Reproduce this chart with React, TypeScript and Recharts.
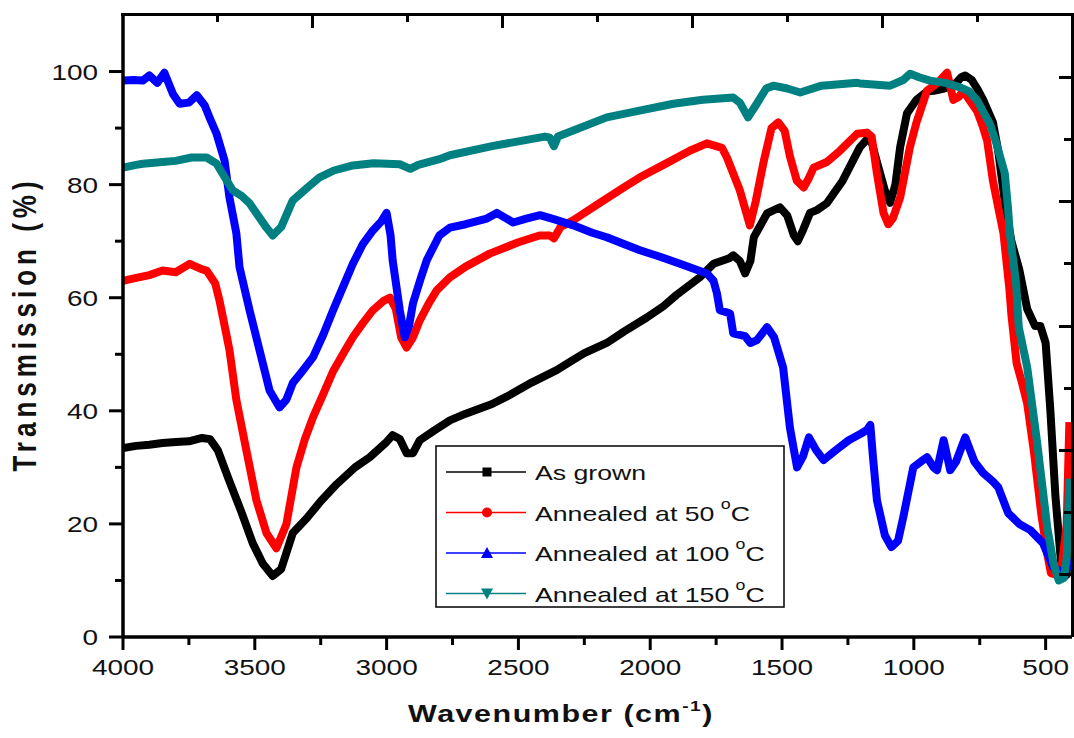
import React from "react"
import { Label, Legend, Line, LineChart, XAxis, YAxis } from "recharts"

// FTIR transmission spectra, [wavenumber cm-1, transmission %]
const asGrown: [number, number][] = [
  [4000, 33.4], [3950, 33.8], [3900, 34], [3850, 34.3], [3800, 34.5], [3750, 34.6], [3700, 35.2],
  [3670, 35], [3640, 33], [3600, 28], [3550, 22], [3508, 16.6], [3470, 13], [3432, 10.8], [3400, 12],
  [3356, 18.4], [3303, 21], [3250, 24], [3190, 27], [3120, 30], [3064, 31.8], [3000, 34.5], [2977, 35.7],
  [2950, 35], [2924, 32.5], [2900, 32.5], [2874, 34.8], [2820, 36.5], [2760, 38.3], [2700, 39.5],
  [2600, 41.2], [2545, 42.5], [2450, 45], [2355, 47.2], [2300, 48.8], [2250, 50.2], [2165, 52], [2100, 54],
  [2013, 56.5], [1950, 58.5], [1900, 60.5], [1812, 63.6], [1760, 66], [1700, 67], [1685, 67.5],
  [1660, 66.5], [1640, 64.3], [1620, 66.5], [1607, 70.7], [1557, 74.9], [1508, 76], [1480, 74.5],
  [1455, 71], [1440, 70], [1420, 72], [1394, 75], [1368, 75.5], [1330, 76.7], [1270, 80.7], [1205, 86.6],
  [1178, 88], [1160, 87.5], [1140, 84], [1110, 79], [1090, 76.8], [1070, 80], [1052, 86.6], [1026, 92.6],
  [990, 95], [950, 96.5], [925, 96.6], [885, 97], [850, 97.5], [820, 99], [805, 99.3], [780, 98.5],
  [760, 97], [737, 95], [700, 91], [680, 86], [655, 77], [630, 70], [600, 65], [570, 58], [540, 55],
  [520, 55], [500, 52], [482, 40], [463, 25], [445, 15], [435, 10.5], [420, 11], [410, 30],
]

const annealed50: [number, number][] = [
  [4000, 63], [3950, 63.5], [3900, 64], [3850, 64.8], [3800, 64.5], [3747, 66], [3700, 65], [3683, 64.8],
  [3650, 62.5], [3634, 59.5], [3610, 54], [3596, 50.7], [3570, 41.9], [3532, 33], [3494, 24.2],
  [3456, 18.4], [3418, 15.7], [3380, 20], [3342, 30], [3310, 35], [3279, 38.9], [3240, 43], [3203, 47],
  [3160, 50.5], [3128, 53], [3090, 55.5], [3052, 57.8], [3010, 59.5], [2987, 60], [2965, 58], [2945, 53],
  [2924, 51.2], [2900, 53], [2874, 56], [2840, 59], [2810, 61.3], [2760, 63.6], [2700, 65.5], [2609, 67.8],
  [2500, 69.8], [2420, 71], [2381, 71], [2365, 70.5], [2340, 72.5], [2292, 73.7], [2200, 76.5],
  [2100, 79.5], [2039, 81.3], [1950, 83.5], [1850, 86], [1785, 87.3], [1750, 86.8], [1728, 86.5],
  [1709, 84.8], [1660, 79], [1622, 72.8], [1600, 77], [1570, 84], [1540, 90], [1514, 91], [1490, 89.5],
  [1470, 85], [1444, 80.7], [1418, 79.5], [1400, 81], [1380, 83], [1330, 84], [1280, 86], [1215, 89],
  [1178, 89.2], [1160, 88.5], [1140, 82], [1115, 75], [1097, 73], [1080, 74], [1052, 77.7], [1015, 86.6],
  [990, 91], [950, 96.6], [910, 98], [874, 99.8], [860, 97], [850, 95], [830, 95.5], [812, 96.6],
  [790, 95], [760, 93], [740, 90.5], [722, 87.8], [700, 80.7], [680, 76], [660, 71.4], [637, 61.3],
  [630, 57], [610, 48.4], [590, 45], [570, 41.3], [545, 33], [517, 21.9], [495, 15], [480, 11.3],
  [460, 11], [440, 12], [420, 20], [410, 38],
]

const annealed100: [number, number][] = [
  [4000, 98.4], [3960, 98.5], [3925, 98.4], [3900, 99.3], [3870, 98], [3843, 99.8], [3810, 96],
  [3785, 94.3], [3750, 94.5], [3720, 95.8], [3690, 94], [3672, 91.9], [3645, 89], [3615, 84.3],
  [3596, 77.7], [3570, 71.4], [3558, 65.4], [3520, 57.8], [3482, 50.7], [3444, 43.6], [3406, 40.6],
  [3380, 42], [3356, 44.9], [3320, 47], [3279, 49.5], [3240, 53.5], [3203, 57.8], [3160, 62.5],
  [3128, 66], [3090, 69.5], [3052, 71.9], [3020, 73.5], [3000, 75], [2985, 71], [2977, 66.6],
  [2950, 57.8], [2931, 53], [2915, 55], [2900, 59], [2870, 63.5], [2848, 66.6], [2800, 71], [2760, 72.4],
  [2700, 73], [2620, 74], [2582, 75], [2520, 73.3], [2470, 74], [2418, 74.6], [2360, 73.8], [2292, 72.8],
  [2220, 71.5], [2165, 70.7], [2100, 69.5], [2039, 68.4], [1960, 67.2], [1887, 66], [1840, 65.2],
  [1785, 64.3], [1760, 63], [1747, 60.8], [1736, 57.8], [1697, 57.2], [1685, 53.7], [1640, 53.2],
  [1620, 52], [1595, 52.5], [1557, 54.8], [1530, 53], [1496, 47.7], [1470, 37], [1443, 30], [1420, 32],
  [1398, 35.3], [1370, 33], [1342, 31.3], [1297, 33], [1247, 34.8], [1200, 36], [1178, 36.6],
  [1165, 37.5], [1155, 31.8], [1140, 24.2], [1110, 18], [1085, 15.9], [1060, 17], [1040, 21.2],
  [1002, 30], [965, 31.3], [950, 31.8], [925, 30], [912, 29.5], [887, 34.8], [862, 29.5], [840, 31],
  [805, 35.3], [770, 31], [737, 29], [700, 27.5], [680, 26.5], [642, 21.9], [600, 20], [558, 18.9],
  [510, 16.6], [472, 12.4], [434, 11.3], [420, 12], [410, 14],
]

const annealed150: [number, number][] = [
  [4000, 83], [3950, 83.5], [3925, 83.7], [3850, 84], [3800, 84.2], [3740, 84.8], [3683, 84.8],
  [3645, 83.7], [3610, 81], [3584, 79], [3550, 78], [3520, 76.7], [3456, 72.4], [3432, 71], [3400, 72.5],
  [3356, 77.2], [3300, 79.5], [3254, 81.3], [3200, 82.5], [3128, 83.4], [3050, 83.8], [2950, 83.6],
  [2910, 82.8], [2880, 83.5], [2800, 84.5], [2760, 85.2], [2600, 86.8], [2400, 88.5], [2381, 88.3],
  [2365, 86.8], [2350, 88.5], [2165, 91.9], [2050, 93], [1912, 94.3], [1800, 95], [1685, 95.4],
  [1660, 94.5], [1629, 91.9], [1600, 94], [1560, 97], [1533, 97.5], [1480, 97], [1431, 96.3],
  [1350, 97.5], [1215, 98], [1204, 97.9], [1090, 97.5], [1040, 98.5], [1014, 99.6], [980, 99],
  [939, 98.4], [880, 98], [824, 97.2], [790, 96.5], [760, 94.9], [712, 90.8], [690, 87.8], [655, 82],
  [643, 76], [636, 71.4], [612, 62.5], [602, 54.8], [570, 47.7], [532, 34.3], [494, 19.4], [470, 13],
  [450, 10], [430, 10.5], [420, 14], [410, 28],
]

const xTicks = [4000, 3750, 3500, 3250, 3000, 2750, 2500, 2250, 2000, 1750, 1500, 1250, 1000, 750, 500]
const yTicks = [0, 10, 20, 30, 40, 50, 60, 70, 80, 90, 100]

const series = [
  { name: "As grown", temp: "", color: "#000000", marker: "square", points: asGrown },
  { name: "Annealed at 50", temp: "C", color: "#ff0000", marker: "circle", points: annealed50 },
  { name: "Annealed at 100", temp: "C", color: "#0000ff", marker: "up", points: annealed100 },
  { name: "Annealed at 150", temp: "C", color: "#008080", marker: "down", points: annealed150 },
]

const FONT = "'Liberation Sans', Arial, sans-serif"
const STRETCH = 1.27
const W = 1074
const H = 738
const PLOT = { left: 123, right: 1072, top: 15, bottom: 637 }

const toRows = (pts: [number, number][]) => pts.map(([wn, t]) => ({ wn, t }))

const LeftTick = (props: any) => {
  const { x, y, payload } = props
  const major = payload.value % 20 === 0
  return (
    <g>
      <line x1={x} x2={x - (major ? 14 : 8)} y1={y} y2={y} stroke="#000" strokeWidth={3} />
      {major && (
        <text transform={`translate(${x - 25},${y + 8}) scale(${STRETCH},1)`} textAnchor="end"
          fontSize={22} fontFamily={FONT} fill="#111">{payload.value}</text>
      )}
    </g>
  )
}

const BottomTick = (props: any) => {
  const { x, y, payload } = props
  const major = payload.value % 500 === 0
  return (
    <g>
      <line x1={x} x2={x} y1={y} y2={y + (major ? 13 : 8)} stroke="#000" strokeWidth={3} />
      {major && (
        <text transform={`translate(${x},${y + 38}) scale(${STRETCH},1)`} textAnchor="middle"
          fontSize={22} fontFamily={FONT} fill="#111">{payload.value}</text>
      )}
    </g>
  )
}

const XTitle = (props: any) => {
  const { x, y } = props.viewBox
  return (
    <text transform={`translate(${x + 285},${y + 85}) scale(${STRETCH},1)`} fontSize={24}
      fontWeight="bold" fontFamily={FONT} fill="#111" letterSpacing={1.2}>
      Wavenumber (cm<tspan fontSize={15} dy={-11}>-1</tspan><tspan dy={11}>)</tspan>
    </text>
  )
}

const YTitle = (props: any) => {
  const { x, y } = props.viewBox
  return (
    <text transform={`translate(${x + 36},${y + 309}) rotate(-90) scale(1,${STRETCH})`} textAnchor="middle"
      fontSize={26} fontWeight="bold" fontFamily={FONT} fill="#111" letterSpacing={5}>
      Transmission (%)
    </text>
  )
}

// top and right edges of the box, with their unlabeled inward ticks (tenths of the edge)
const Frame = () => {
  const w = PLOT.right - PLOT.left
  const h = PLOT.bottom - PLOT.top
  const tenths = [1, 2, 3, 4, 5, 6, 7, 8, 9]
  const tick = (style: React.CSSProperties) => (
    <div style={{ position: "absolute", background: "#000", ...style }} />
  )
  return (
    <div style={{ position: "absolute", left: 0, top: 0, width: W, height: H, pointerEvents: "none", zIndex: 5 }}>
      <div style={{
        position: "absolute", left: PLOT.left - 2, top: PLOT.top - 2, width: w + 4, height: h + 2,
        borderTop: "3.5px solid #000", borderRight: "3.5px solid #000", boxSizing: "border-box",
      }} />
      {tenths.map(k => (
        <React.Fragment key={`t${k}`}>
          {tick({ left: PLOT.left + (w * k) / 10 - 1.5, top: PLOT.top, width: 3, height: k % 2 ? 7 : 13 })}
        </React.Fragment>
      ))}
      {tenths.map(k => (
        <React.Fragment key={`r${k}`}>
          {tick({ left: PLOT.right - (k % 2 ? 13 : 8), top: PLOT.bottom - (h * k) / 10 - 1.5,
            width: k % 2 ? 13 : 8, height: 3 })}
        </React.Fragment>
      ))}
    </div>
  )
}

const Marker = ({ kind, x, y, color }: { kind: string, x: number, y: number, color: string }) => {
  if (kind === "square") return <rect x={x - 4.5} y={y - 4.5} width={9} height={9} fill={color} />
  if (kind === "circle") return <circle cx={x} cy={y} r={5} fill={color} />
  if (kind === "up") return <polygon points={`${x - 6},${y + 5} ${x + 6},${y + 5} ${x},${y - 6}`} fill={color} />
  return <polygon points={`${x - 6},${y - 5} ${x + 6},${y - 5} ${x},${y + 6}`} fill={color} />
}

const LegendBox = () => (
  <svg width={351} height={164}>
    <rect x={1} y={1} width={348} height={161} fill="#fff" stroke="#000" strokeWidth={1.5} />
    {series.map((s, i) => {
      const cy = 27 + i * 40.5
      return (
        <g key={s.name}>
          <line x1={11} x2={91} y1={cy} y2={cy} stroke={s.color} strokeWidth={1.5} />
          <Marker kind={s.marker} x={52} y={cy} color={s.color} />
          <text transform={`translate(100,${cy + 8}) scale(${STRETCH},1)`} fontSize={21}
            fontFamily={FONT} fill="#111">
            {s.name}
            {s.temp && <tspan fontSize={14} dx={5} dy={-12}>o</tspan>}
            {s.temp && <tspan dy={12}>{s.temp}</tspan>}
          </text>
        </g>
      )
    })}
  </svg>
)

export default function App() {
  return (
    <div style={{ position: "relative", width: W, height: H, background: "#fff" }}>
      <style>{"body{margin:0}"}</style>
      <LineChart width={W} height={H} margin={{ top: PLOT.top, right: W - PLOT.right, bottom: 0, left: 0 }}>
        <XAxis xAxisId="b" dataKey="wn" type="number" domain={[400, 4000]} reversed allowDataOverflow
          ticks={xTicks} interval={0} height={H - PLOT.bottom} tickSize={0} tickMargin={0}
          tick={<BottomTick />} tickLine={false} axisLine={{ stroke: "#000", strokeWidth: 3.5 }}>
          <Label content={<XTitle />} />
        </XAxis>
        <YAxis yAxisId="l" type="number" domain={[0, 110]} ticks={yTicks} interval={0} width={PLOT.left}
          tickSize={0} tickMargin={0} tick={<LeftTick />} tickLine={false} allowDataOverflow
          axisLine={{ stroke: "#000", strokeWidth: 3.5 }}>
          <Label content={<YTitle />} />
        </YAxis>
        {series.map(s => (
          <Line key={s.name} xAxisId="b" yAxisId="l" data={toRows(s.points)} dataKey="t" name={s.name}
            type="linear" stroke={s.color} strokeWidth={8} strokeLinejoin="round" dot={false}
            isAnimationActive={false} />
        ))}
        <Legend layout="horizontal" verticalAlign="middle" content={<LegendBox />}
          wrapperStyle={{ position: "absolute", left: 435, top: 445, width: 351, height: 164 }} />
      </LineChart>
      <Frame />
    </div>
  )
}
